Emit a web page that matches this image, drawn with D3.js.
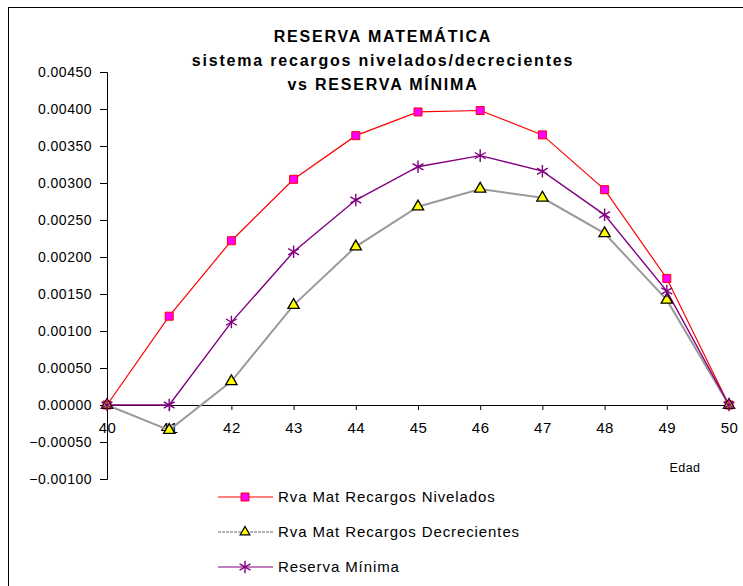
<!DOCTYPE html>
<html>
<head>
<meta charset="utf-8">
<script src="https://cdn.jsdelivr.net/npm/d3@7"></script>
<style>
  body { margin: 0; background: #fff; }
  svg text { font-family: "Liberation Sans", Arial, sans-serif; fill: #000; }
</style>
</head>
<body>
<div id="chart"></div>
<script>
// ages on the x axis
var edades = [40, 41, 42, 43, 44, 45, 46, 47, 48, 49, 50];

// series values
var nivelados = [0, 0.00120, 0.00222, 0.00305, 0.00364, 0.00396, 0.00398, 0.00365, 0.00291, 0.00171, 0];
var decrecientes = [0, -0.00034, 0.00032, 0.00135, 0.00214, 0.00268, 0.00292, 0.00280, 0.00232, 0.00142, 0];
var minima = [0, 0, 0.00112, 0.00207, 0.00277, 0.00322, 0.00337, 0.00316, 0.00257, 0.00154, 0];

var seriesNames = ["Rva Mat Recargos Nivelados", "Rva Mat Recargos Decrecientes", "Reserva Mínima"];
var yTicks = [-0.001, -0.0005, 0, 0.0005, 0.001, 0.0015, 0.002, 0.0025, 0.003, 0.0035, 0.004, 0.0045];
var titleLines = ["RESERVA MATEMÁTICA", "sistema recargos nivelados/decrecientes", "vs RESERVA MÍNIMA"];

var svgWidth = 743;
var svgHeight = 586;

var svg = d3.select("#chart")
    .append("svg")
    .attr("width", svgWidth)
    .attr("height", svgHeight);

// outer chart frame (runs off right/bottom edge)
svg.append("rect")
    .attr("x", 8.5)
    .attr("y", 7.5)
    .attr("width", 760)
    .attr("height", 600)
    .attr("fill", "#fff")
    .attr("stroke", "#000")
    .attr("stroke-width", 1);

var x = d3.scalePoint().domain(edades).range([107, 729]);
var y = d3.scaleLinear().domain([-0.001, 0.0045]).range([479, 72]);

// title
svg.append("g").selectAll("text")
    .data(titleLines)
    .enter()
    .append("text")
    .attr("x", 383)
    .attr("y", (d, i) => 42 + i * 24)
    .attr("text-anchor", "middle")
    .style("font-size", "16px")
    .style("font-weight", "bold")
    .style("letter-spacing", "1.8px")
    .text(d => d);

// y axis
var yAxis = svg.append("g")
    .attr("transform", "translate(107,0)")
    .call(d3.axisLeft(y).tickValues(yTicks).tickSize(7).tickPadding(8)
        .tickFormat(d3.format(".5f")));
yAxis.selectAll("text").style("font-size", "14px").style("letter-spacing", "0.5px");
yAxis.selectAll("path, line").attr("stroke", "#000");

// x axis sits on zero
var xAxis = svg.append("g")
    .attr("transform", `translate(0,${y(0)})`)
    .call(d3.axisBottom(x).tickSizeInner(5).tickSizeOuter(0).tickPadding(12));
xAxis.select("path").attr("d", `M${x(40)},0.5H${x(50)}`);
xAxis.selectAll("path, line").attr("stroke", "#000");
xAxis.selectAll("text").style("font-size", "15px").style("letter-spacing", "0.5px");

svg.append("text")
    .attr("x", 685)
    .attr("y", 472)
    .attr("text-anchor", "middle")
    .style("font-size", "12.5px")
    .style("letter-spacing", "0.4px")
    .text("Edad");

var line = d3.line()
    .x((d, i) => x(edades[i]))
    .y(d => y(d));

var sq = d3.symbol().type(d3.symbolSquare).size(64);
var tri = d3.symbol().type(d3.symbolTriangle).size(55);
var star = d3.symbol().type(d3.symbolAsterisk).size(110);

var styles = [
    { data: nivelados, stroke: "#ff0000", width: 1.2, sym: sq, fill: "#ff00ff", mstroke: "#ff0000", mw: 1 },
    { data: decrecientes, stroke: "#9a9a9a", width: 2, sym: tri, fill: "#ffff00", mstroke: "#000", mw: 1.3 },
    { data: minima, stroke: "#800080", width: 1.4, sym: star, fill: "none", mstroke: "#800080", mw: 1.4 }
];

styles.forEach(function (s) {
    svg.append("path")
        .datum(s.data)
        .attr("d", line)
        .attr("fill", "none")
        .attr("stroke", s.stroke)
        .attr("stroke-width", s.width);
});

styles.forEach(function (s) {
    svg.append("g").selectAll("path")
        .data(s.data)
        .enter()
        .append("path")
        .attr("transform", (d, i) => `translate(${x(edades[i])},${y(d)})`)
        .attr("d", s.sym)
        .attr("fill", s.fill)
        .attr("stroke", s.mstroke)
        .attr("stroke-width", s.mw);
});

// legend
var legend = svg.append("g");
styles.forEach(function (s, i) {
    var ly = 497 + i * 35;
    legend.append("line")
        .attr("x1", 218).attr("x2", 273)
        .attr("y1", ly).attr("y2", ly)
        .attr("stroke", s.stroke)
        .attr("stroke-width", i == 1 ? 1.5 : 1.2)
        .attr("stroke-dasharray", i == 1 ? "3,1" : null);
    legend.append("path")
        .attr("transform", `translate(245,${ly})`)
        .attr("d", i == 1 ? d3.symbol().type(d3.symbolTriangle).size(40) : s.sym)
        .attr("fill", s.fill)
        .attr("stroke", s.mstroke)
        .attr("stroke-width", s.mw);
    legend.append("text")
        .attr("x", 278)
        .attr("y", ly + 5)
        .style("font-size", "15px")
        .style("letter-spacing", "0.9px")
        .text(seriesNames[i]);
});
</script>
</body>
</html>
